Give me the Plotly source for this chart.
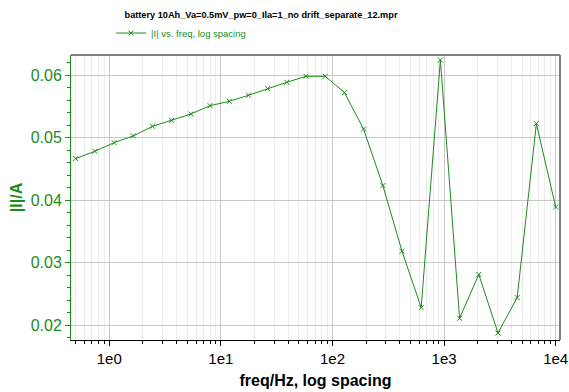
import plotly.graph_objects as go

# frequencies (Hz)
freq = [0.5, 0.743, 1.104, 1.64, 2.44, 3.62, 5.38, 8.0, 11.9, 17.7, 26.3, 39.0,
        58.0, 86.2, 128, 190, 283, 420, 624, 927, 1378, 2048, 3043, 4522, 6720, 10000]
# |I| (A)
curr = [0.04664, 0.04781, 0.04920, 0.05026, 0.0518, 0.05276, 0.05377, 0.0551,
        0.0558, 0.05676, 0.05783, 0.05884, 0.0598, 0.0598, 0.0572, 0.05137,
        0.04233, 0.03183, 0.02283, 0.06240, 0.02112, 0.02813, 0.01877, 0.02443,
        0.05224, 0.03891]

xtick_vals = [1, 10, 100, 1000, 10000]
xtick_text = ["1e0", "1e1", "1e2", "1e3", "1e4"]
ytick_vals = [0.02, 0.03, 0.04, 0.05, 0.06]
ytick_text = ["0.02", "0.03", "0.04", "0.05", "0.06"]

GREEN = "#1b8c1b"
FONT = "Liberation Sans, Arial, sans-serif"

fig = go.Figure()
fig.add_trace(go.Scatter(
    x=freq, y=curr, mode="lines+markers",
    name="|I| vs. freq, log spacing",
    line=dict(color=GREEN, width=1),
    marker=dict(symbol="x-thin", size=5, color=GREEN, line=dict(color=GREEN, width=1)),
))

fig.update_layout(
    width=569, height=392,
    margin=dict(l=71, r=9, t=55, b=52, autoexpand=False),
    paper_bgcolor="white", plot_bgcolor="white",
    font=dict(family=FONT),
    title=dict(text="<b>battery 10Ah_Va=0.5mV_pw=0_Ila=1_no drift_separate_12.mpr</b>",
               x=261 / 569, xref="container", xanchor="center",
               y=1 - 15 / 392, yref="container", yanchor="middle",
               font=dict(size=9.2, color="black", family=FONT)),
    showlegend=True,
    legend=dict(x=0.082, y=1.128, xanchor="left", yanchor="top",
                font=dict(size=9.5, color=GREEN, family=FONT),
                itemwidth=30, bgcolor="rgba(0,0,0,0)", borderwidth=0,
                tracegroupgap=0),
    xaxis=dict(
        type="log", range=[-0.343, 4.039], automargin=False,
        tickvals=xtick_vals, ticktext=xtick_text,
        tickfont=dict(size=15, color="black", family=FONT),
        showgrid=True, gridcolor="#c8c8c8", gridwidth=1,
        ticks="outside", ticklen=5, tickcolor="black",
        showline=True, linecolor="black", linewidth=1,
        zeroline=False,
        minor=dict(ticks="outside", ticklen=3, tickcolor="black",
                   showgrid=True, gridcolor="#ececec",
                   tickvals=[m * 10 ** e for e in range(-1, 5) for m in range(2, 10)]),
        title=dict(text="<b>freq/Hz, log spacing</b>",
                   font=dict(size=16, color="black", family=FONT), standoff=8),
    ),
    yaxis=dict(
        range=[0.01765, 0.0632], automargin=False,
        tickvals=ytick_vals, ticktext=ytick_text,
        tickfont=dict(size=16, color=GREEN, family=FONT),
        showgrid=True, gridcolor="#c8c8c8", gridwidth=1,
        ticks="outside", ticklen=5, tickcolor=GREEN,
        showline=True, linecolor=GREEN, linewidth=1,
        zeroline=False,
        minor=dict(ticks="outside", ticklen=3, tickcolor=GREEN, dtick=0.002,
                   tick0=0.0, showgrid=False),
        title=dict(text="<b>|I|/A</b>",
                   font=dict(size=16, color=GREEN, family=FONT), standoff=4),
    ),
)

# frame: top and right borders
fig.add_shape(type="line", xref="paper", yref="paper", x0=0, x1=1, y0=1, y1=1,
              line=dict(color="#808080", width=2))
fig.add_shape(type="line", xref="paper", yref="paper", x0=1, x1=1, y0=0, y1=1,
              line=dict(color="#808080", width=2))

fig.write_html("out.html")
